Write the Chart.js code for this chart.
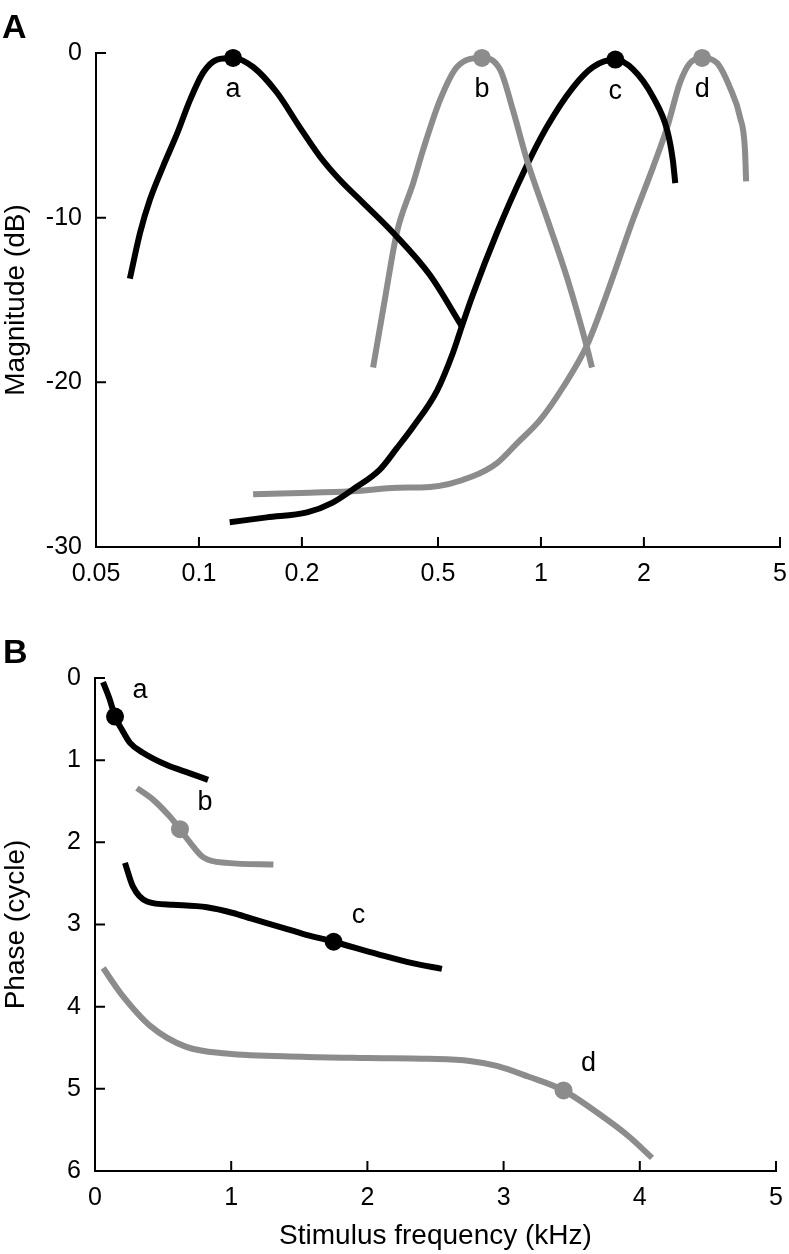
<!DOCTYPE html>
<html>
<head>
<meta charset="utf-8">
<script src="https://cdn.jsdelivr.net/npm/chart.js@4.4.0/dist/chart.umd.min.js"></script>
<style>
  body { margin: 0; background: #fff; }
  #wrap { position: relative; width: 789px; height: 1254px; }
  canvas { position: absolute; left: 0; }
  .panel { position: absolute; font: bold 34px 'Liberation Sans', Arial, sans-serif; line-height: 1; }
</style>
</head>
<body>
<div id="wrap">
  <canvas id="chartMag" width="789" height="620" style="top:0;width:789px;height:620px"></canvas>
  <canvas id="chartPhase" width="789" height="634" style="top:620px;width:789px;height:634px"></canvas>
  <div class="panel" style="left:2px;top:9px">A</div>
  <div class="panel" style="left:3px;top:634px">B</div>
</div>
<script>
const BLACK = '#000000';
const GRAY = '#8c8c8c';
Chart.defaults.font.family = "'Liberation Sans', Arial, Helvetica, sans-serif";
Chart.defaults.color = '#000';

const curveNames = ['a', 'b', 'c', 'd'];
const curveColors = [BLACK, GRAY, BLACK, GRAY];

// --- A: magnitude vs frequency (kHz, dB)
const magTicksX = [0.05, 0.1, 0.2, 0.5, 1, 2, 5];
const magA_f = [0.0628, 0.0673, 0.0719, 0.0785, 0.0863, 0.0942, 0.1028, 0.113, 0.1258, 0.144, 0.169, 0.197, 0.226, 0.258, 0.302, 0.369, 0.474, 0.587];
const magA_db = [-13.7, -10.9, -8.9, -6.9, -4.9, -2.85, -1.2, -0.4, -0.3, -0.85, -2.4, -4.5, -6.3, -7.7, -9.1, -10.9, -13.5, -16.6];
const magB_f = [0.323, 0.352, 0.379, 0.423, 0.452, 0.507, 0.568, 0.672, 0.759, 0.829, 0.910, 1.04, 1.19, 1.36, 1.41];
const magB_db = [-19.1, -14.6, -10.9, -7.9, -5.9, -2.85, -0.85, -0.3, -1.0, -3.5, -6.5, -10.0, -13.6, -17.8, -19.1];
const magC_f = [0.123, 0.158, 0.207, 0.246, 0.282, 0.338, 0.379, 0.423, 0.497, 0.553, 0.587, 0.629, 0.744, 0.887, 1.04, 1.24, 1.42, 1.65, 1.86, 2.13, 2.34, 2.43, 2.47];
const magC_db = [-28.5, -28.2, -27.9, -27.3, -26.5, -25.3, -24.0, -22.7, -20.5, -18.2, -16.6, -14.8, -10.9, -7.3, -4.5, -2.1, -0.85, -0.4, -1.0, -2.7, -4.7, -6.5, -7.9];
const magD_f = [0.144, 0.211, 0.290, 0.379, 0.474, 0.632, 0.744, 0.851, 0.993, 1.16, 1.36, 1.56, 1.86, 2.13, 2.34, 2.55, 2.73, 2.96, 3.27, 3.57, 3.82, 3.95, 3.98];
const magD_db = [-26.8, -26.7, -26.6, -26.4, -26.35, -25.7, -24.9, -23.7, -22.3, -20.3, -17.8, -14.6, -10.1, -6.9, -4.5, -1.8, -0.6, -0.3, -0.6, -2.1, -3.9, -5.9, -7.8];
const magPeak_f = [0.1258, 0.672, 1.65, 2.96];
const magPeak_db = [-0.3, -0.3, -0.4, -0.3];

// --- B: phase vs frequency (kHz, cycle)
const phA_f = [0.059, 0.11, 0.147, 0.198, 0.257, 0.352, 0.528, 0.697, 0.83];
const phA_c = [0.05, 0.27, 0.47, 0.63, 0.79, 0.91, 1.06, 1.16, 1.24];
const phB_f = [0.308, 0.426, 0.551, 0.624, 0.697, 0.793, 0.969, 1.31];
const phB_c = [1.34, 1.48, 1.69, 1.84, 2.0, 2.18, 2.25, 2.27];
const phC_f = [0.22, 0.279, 0.382, 0.573, 0.822, 1.013, 1.15, 1.38, 1.52, 1.752, 2.074, 2.33, 2.547];
const phC_c = [2.25, 2.54, 2.72, 2.76, 2.79, 2.86, 2.93, 3.04, 3.11, 3.21, 3.36, 3.47, 3.54];
const phD_f = [0.06, 0.19, 0.41, 0.67, 0.965, 1.52, 2.0, 2.45, 2.75, 2.95, 3.18, 3.44, 3.73, 3.92, 4.09];
const phD_c = [3.53, 3.84, 4.24, 4.49, 4.57, 4.61, 4.625, 4.635, 4.66, 4.72, 4.85, 5.02, 5.34, 5.58, 5.84];
const phPeak_f = [0.147, 0.624, 1.752, 3.44];
const phPeak_c = [0.47, 1.84, 3.21, 5.02];

function pts(xs, ys) {
  return xs.map((x, i) => ({ x: x, y: ys[i] }));
}

function curve(xs, ys, color) {
  return {
    data: pts(xs, ys),
    borderColor: color,
    borderWidth: 6,
    pointRadius: 0,
    cubicInterpolationMode: 'monotone',
    fill: false,
    clip: false
  };
}

function peaks(xs, ys) {
  return {
    data: pts(xs, ys),
    showLine: false,
    pointRadius: 9,
    pointBorderWidth: 0,
    pointBackgroundColor: curveColors,
    clip: false
  };
}

// ticks pointing into the plot, like the original figure
const inwardTicks = {
  id: 'inwardTicks',
  afterDraw(chart) {
    const ctx = chart.ctx, area = chart.chartArea;
    const sx = chart.scales.x, sy = chart.scales.y;
    ctx.save();
    ctx.strokeStyle = '#000';
    ctx.lineWidth = 2;
    ctx.beginPath();
    sx.ticks.forEach(t => {
      const p = sx.getPixelForValue(t.value);
      ctx.moveTo(p, area.bottom);
      ctx.lineTo(p, area.bottom - 10);
    });
    sy.ticks.forEach(t => {
      const p = sy.getPixelForValue(t.value);
      ctx.moveTo(area.left, p);
      ctx.lineTo(area.left + 10, p);
    });
    ctx.stroke();
    ctx.restore();
  }
};

// letters a-d next to the marked points
const peakLabels = {
  id: 'peakLabels',
  afterDatasetsDraw(chart, args, opts) {
    const meta = chart.getDatasetMeta(0);
    const ctx = chart.ctx;
    ctx.save();
    ctx.font = "27px 'Liberation Sans', Arial, sans-serif";
    ctx.fillStyle = '#000';
    ctx.textAlign = 'center';
    ctx.textBaseline = 'alphabetic';
    meta.data.forEach((pt, i) => {
      ctx.fillText(curveNames[i], pt.x + opts.dx, pt.y + opts.dy);
    });
    ctx.restore();
  }
};

const axisBorder = { display: true, color: '#000', width: 2 };
const noGrid = { display: false, drawTicks: false };

// fixed box sizes so the plot area lands where the original has it
function fixX(h) {
  return s => { s.height = h; s.paddingLeft = 0; s.paddingRight = 0; };
}
function fixY(w) {
  return s => { s.width = w; s.paddingTop = 0; s.paddingBottom = 0; };
}

new Chart(document.getElementById('chartMag'), {
  type: 'line',
  data: {
    datasets: [
      peaks(magPeak_f, magPeak_db),
      curve(magA_f, magA_db, BLACK),
      curve(magB_f, magB_db, GRAY),
      curve(magC_f, magC_db, BLACK),
      curve(magD_f, magD_db, GRAY)
    ]
  },
  options: {
    responsive: false,
    animation: false,
    layout: { padding: { top: 53, right: 8, left: 0, bottom: 0 } },
    plugins: {
      legend: { display: false },
      tooltip: { enabled: false },
      peakLabels: { dx: 0, dy: 39 }
    },
    scales: {
      x: {
        type: 'logarithmic',
        min: 0.05,
        max: 5,
        afterBuildTicks: s => { s.ticks = magTicksX.map(v => ({ value: v })); },
        afterFit: fixX(73),
        ticks: { autoSkip: false, maxRotation: 0, padding: 12, font: { size: 25 }, callback: v => String(v) },
        grid: noGrid,
        border: axisBorder
      },
      y: {
        min: -30,
        max: 0,
        afterFit: fixY(96),
        ticks: { stepSize: 10, padding: 14, font: { size: 25 } },
        title: { display: true, text: 'Magnitude (dB)', font: { size: 28, lineHeight: 1 }, padding: { top: 2, bottom: 0 } },
        grid: noGrid,
        border: axisBorder
      }
    }
  },
  plugins: [inwardTicks, peakLabels]
});

new Chart(document.getElementById('chartPhase'), {
  type: 'line',
  data: {
    datasets: [
      peaks(phPeak_f, phPeak_c),
      curve(phA_f, phA_c, BLACK),
      curve(phB_f, phB_c, GRAY),
      curve(phC_f, phC_c, BLACK),
      curve(phD_f, phD_c, GRAY)
    ]
  },
  options: {
    responsive: false,
    animation: false,
    layout: { padding: { top: 58, right: 13, left: 0, bottom: 0 } },
    plugins: {
      legend: { display: false },
      tooltip: { enabled: false },
      peakLabels: { dx: 25, dy: -19 }
    },
    scales: {
      x: {
        type: 'linear',
        min: 0,
        max: 5,
        afterFit: fixX(83),
        ticks: { stepSize: 1, maxRotation: 0, padding: 12, font: { size: 25 } },
        title: { display: true, text: 'Stimulus frequency (kHz)', font: { size: 28, lineHeight: 1 }, padding: { top: 0, bottom: 4 } },
        grid: noGrid,
        border: axisBorder
      },
      y: {
        min: 0,
        max: 6,
        reverse: true,
        afterFit: fixY(95),
        ticks: { stepSize: 1, padding: 14, font: { size: 25 } },
        title: { display: true, text: 'Phase (cycle)', font: { size: 28, lineHeight: 1 }, padding: { top: 2, bottom: 0 } },
        grid: noGrid,
        border: axisBorder
      }
    }
  },
  plugins: [inwardTicks, peakLabels]
});
</script>
</body>
</html>
